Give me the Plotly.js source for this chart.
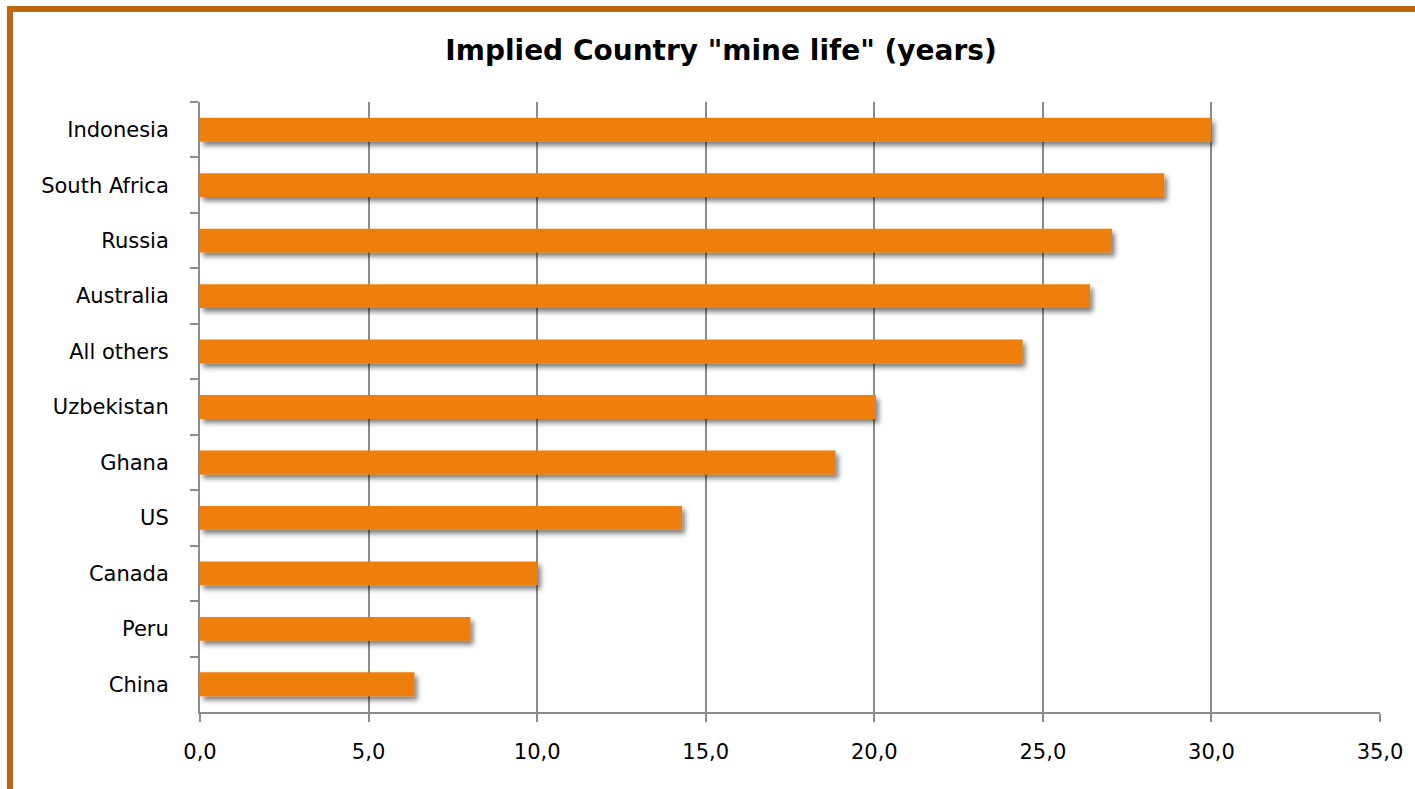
<!DOCTYPE html>
<html>
<head>
<meta charset="utf-8">
<script src="https://cdn.plot.ly/plotly-3.0.1.min.js"></script>
<style>
  html, body { margin: 0; padding: 0; background: #fff; overflow: hidden; }
  #frame { position: absolute; left: 7px; top: 6px; width: 1500px; height: 900px;
           border-top: 6px solid #C0650F; border-left: 6px solid #C0650F; box-sizing: border-box; pointer-events: none; z-index: 5; }
  #chart { position: absolute; left: 0; top: 0; width: 1415px; height: 789px; }
  .barlayer .point path { filter: url(#barshadow); }
</style>
</head>
<body>
<svg width="0" height="0" style="position:absolute">
  <defs>
    <filter id="barshadow" x="-5%" y="-40%" width="115%" height="210%">
      <feDropShadow dx="3" dy="4" stdDeviation="2.5" flood-color="#000000" flood-opacity="0.5"/>
    </filter>
  </defs>
</svg>
<div id="chart"></div>
<div id="frame"></div>
<script>
const countries = ["Indonesia", "South Africa", "Russia", "Australia", "All others", "Uzbekistan", "Ghana", "US", "Canada", "Peru", "China"];
const mineLife = [30.0, 28.6, 27.05, 26.4, 24.4, 20.05, 18.85, 14.3, 10.02, 8.02, 6.36];
const xTicks = [0, 5, 10, 15, 20, 25, 30, 35];
const titleText = 'Implied Country "mine life" (years)';

const fontFam = '"Century Gothic", "URW Gothic", "DejaVu Sans", sans-serif';

Plotly.newPlot('chart', [{
  type: 'bar',
  orientation: 'h',
  y: countries,
  x: mineLife,
  marker: { color: '#EF7F0A', line: { width: 0 } },
  hoverinfo: 'x+y'
}], {
  width: 1415, height: 789,
  paper_bgcolor: '#ffffff', plot_bgcolor: '#ffffff',
  margin: { l: 200, r: 35, t: 102, b: 77 },
  bargap: 0.57,
  showlegend: false,
  separators: ', ',
  font: { family: fontFam, color: '#000000', size: 21 },
  title: {
    text: '<b>' + titleText + '</b>',
    x: 721 / 1415, xref: 'container', xanchor: 'center',
    y: 1 - 50 / 789, yref: 'container', yanchor: 'middle',
    font: { family: fontFam, size: 28, color: '#000000' }
  },
  xaxis: {
    range: [0, 35],
    tickvals: xTicks,
    tickformat: '.1f',
    showgrid: true, gridcolor: '#8C8C8C', gridwidth: 2,
    showline: true, linecolor: '#8C8C8C', linewidth: 2,
    ticks: 'outside', ticklen: 8, tickwidth: 2, tickcolor: '#8C8C8C',
    ticklabelstandoff: 12,
    zeroline: false,
    tickfont: { family: fontFam, size: 21, color: '#000000' },
    fixedrange: true
  },
  yaxis: {
    type: 'category',
    autorange: 'reversed',
    showgrid: false,
    showline: true, linecolor: '#8C8C8C', linewidth: 2,
    ticks: 'outside', ticklen: 8, tickwidth: 2, tickcolor: '#8C8C8C',
    tickson: 'boundaries',
    ticklabelstandoff: 25,
    tickfont: { family: fontFam, size: 21, color: '#000000' },
    fixedrange: true
  }
}, { displayModeBar: false, staticPlot: true });
</script>
</body>
</html>
